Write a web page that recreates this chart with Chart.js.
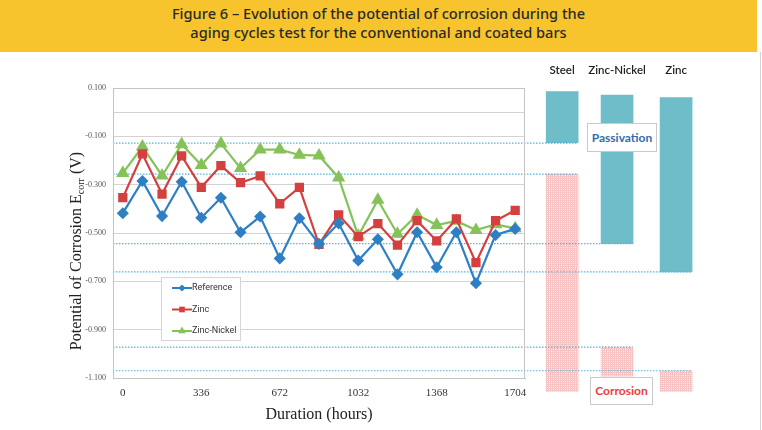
<!DOCTYPE html>
<html>
<head>
<meta charset="utf-8">
<script src="https://cdn.jsdelivr.net/npm/chart.js@4/dist/chart.umd.min.js"></script>
<style>
  body { margin: 0; background: #fff; }
  #wrap { position: relative; width: 762px; height: 430px; overflow: hidden; }
  #banner { position: absolute; left: 0; top: 0; width: 757px; height: 52px; background: #F8C42E;
            color: #2a2a2a; text-align: center; font-family: 'Noto Sans', sans-serif; font-size: 14.6px;
            font-weight: 500; line-height: 19px; padding-top: 4px; box-sizing: border-box; }
  canvas { position: absolute; left: 0; top: 0; }
  .tag { position: absolute; background: #fff; border: 1px solid #cacaca; font-family: Lato, sans-serif;
         font-weight: 700; font-size: 12px; text-align: center; box-sizing: border-box; z-index: 5; }
  #edge { position: absolute; left: 760px; top: 52px; width: 1px; height: 378px; background: #d4d4d4; }
</style>
</head>
<body>
<div id="wrap">
  <canvas id="bars" width="762" height="430"></canvas>
  <canvas id="lines" width="762" height="430"></canvas>
  <div id="banner">Figure 6 – Evolution of the potential of corrosion during the<br>aging cycles test for the conventional and coated bars</div>
  <div class="tag" style="left:587px;top:123px;width:70px;height:29px;line-height:27px;color:#2F6DB3;">Passivation</div>
  <div class="tag" style="left:590px;top:377px;width:63px;height:28px;line-height:26px;color:#F03C3C;">Corrosion</div>
  <div id="edge"></div>
</div>
<script>
// durations (hours) for each measurement, only every 4th is labelled
const hours = [0, 84, 168, 252, 336, 420, 504, 588, 672, 762, 852, 942, 1032, 1116, 1200, 1284, 1368, 1452, 1536, 1620, 1704];
const reference = [-0.418, -0.285, -0.430, -0.288, -0.437, -0.354, -0.497, -0.432, -0.605, -0.439, -0.545,
                   -0.460, -0.614, -0.526, -0.671, -0.497, -0.642, -0.497, -0.708, -0.508, -0.483];
const zinc = [-0.354, -0.173, -0.339, -0.181, -0.311, -0.221, -0.292, -0.264, -0.379, -0.311, -0.547,
              -0.425, -0.515, -0.461, -0.550, -0.449, -0.533, -0.442, -0.623, -0.449, -0.406];
const zincNickel = [-0.252, -0.143, -0.263, -0.133, -0.219, -0.130, -0.232, -0.155, -0.155, -0.177, -0.180,
                    -0.271, -0.512, -0.363, -0.504, -0.425, -0.467, -0.450, -0.488, -0.464, -0.481];

// right-hand panel: passivation / corrosion ranges per material
const materials = ['Steel', 'Zinc-Nickel', 'Zinc'];
const materialSlot = [22.41, 25.21, 28.22];
const passHigh = [0.085, 0.071, 0.060];
const passLow = [-0.126, -0.544, -0.661];
const corrHigh = [-0.256, -0.972, -1.070];
const corrLow = [-1.156, -1.092, -1.156];
// dotted reference levels and where they stop (in slot units)
const levels = [-0.128, -0.256, -0.544, -0.661, -0.972, -1.070];
const levelEnd = [23.2, 23.2, 26.0, 29.0, 26.0, 29.0];

const yMin = -1.1, yMax = 0.1;

const framePlugin = {
  id: 'frame',
  afterDraw(chart) {
    const { ctx, chartArea: a } = chart;
    ctx.save();
    ctx.strokeStyle = '#c4c4c4';
    ctx.lineWidth = 1;
    ctx.strokeRect(a.left + 0.5, a.top + 0.5, a.right - a.left - 1, a.bottom - a.top);
    ctx.restore();
  }
};

const yTitlePlugin = {
  id: 'yTitle',
  afterDraw(chart) {
    const ctx = chart.ctx;
    const big = '16px "Liberation Serif"', small = '10px "Liberation Serif"';
    const p1 = 'Potential of Corrosion E', p2 = 'corr', p3 = ' (V)';
    ctx.save();
    ctx.translate(77, 251);
    ctx.rotate(-Math.PI / 2);
    ctx.fillStyle = '#222';
    ctx.textBaseline = 'middle';
    ctx.textAlign = 'left';
    ctx.font = big;
    const w1 = ctx.measureText(p1).width, w3 = ctx.measureText(p3).width;
    ctx.font = small;
    const w2 = ctx.measureText(p2).width;
    let x = -(w1 + w2 + w3) / 2;
    ctx.font = big; ctx.fillText(p1, x, 0); x += w1;
    ctx.font = small; ctx.fillText(p2, x, 4); x += w2;
    ctx.font = big; ctx.fillText(p3, x, 0);
    ctx.restore();
  }
};

const legendPlugin = {
  id: 'boxLegend',
  afterDraw(chart) {
    const ctx = chart.ctx;
    const bx = 161, by = 277, bw = 79, bh = 63;
    ctx.save();
    ctx.fillStyle = '#fff';
    ctx.fillRect(bx, by, bw, bh);
    ctx.strokeStyle = '#d6d6d6';
    ctx.strokeRect(bx + 0.5, by + 0.5, bw, bh);
    chart.data.datasets.forEach((ds, i) => {
      const y = by + 11 + i * 21.5;
      ctx.strokeStyle = ds.borderColor;
      ctx.fillStyle = ds.backgroundColor;
      ctx.lineWidth = 2;
      ctx.beginPath();
      ctx.moveTo(bx + 11, y);
      ctx.lineTo(bx + 31, y);
      ctx.stroke();
      Chart.helpers.drawPoint(ctx, { pointStyle: ds.pointStyle, radius: ds.pointRadius * 0.8, borderWidth: 0, rotation: 0 }, bx + 21, y);
      ctx.fillStyle = '#333';
      ctx.font = '9px "Liberation Sans Narrow", Roboto, sans-serif';
      ctx.textBaseline = 'middle';
      ctx.fillText(ds.label, bx + 31, y);
    });
    ctx.restore();
  }
};

const lineChart = new Chart(document.getElementById('lines'), {
  type: 'line',
  data: {
    labels: hours,
    datasets: [
      { label: 'Reference', data: reference, borderColor: '#2E7FC4', backgroundColor: '#2E7FC4',
        pointStyle: 'rectRot', pointRadius: 4.5, borderWidth: 2.2 },
      { label: 'Zinc', data: zinc, borderColor: '#D4403F', backgroundColor: '#D4403F',
        pointStyle: 'rect', pointRadius: 5, borderWidth: 2.2 },
      { label: 'Zinc-Nickel', data: zincNickel, borderColor: '#86C25A', backgroundColor: '#86C25A',
        pointStyle: 'triangle', pointRadius: 5.5, borderWidth: 2.2 }
    ]
  },
  options: {
    responsive: false,
    animation: false,
    layout: { padding: { left: 0, top: 88, right: 237, bottom: 0 } },
    elements: { line: { tension: 0 }, point: { borderWidth: 0 } },
    scales: {
      x: {
        offset: true,
        grid: { display: false, drawTicks: false },
        border: { color: '#c4c4c4' },
        afterFit: s => { s.height = 52; },
        ticks: {
          autoSkip: false, maxRotation: 0, padding: 9, color: '#333',
          font: { family: 'Liberation Serif', size: 11 },
          callback: (v, i) => (i % 4 === 0 ? String(hours[i]) : '')
        },
        title: { display: true, text: 'Duration (hours)', color: '#222',
                 font: { family: 'Liberation Serif', size: 16 }, padding: { top: 0, bottom: 6 } }
      },
      y: {
        min: yMin, max: yMax,
        afterFit: s => { s.width = 113; },
        grid: {
          drawTicks: false,
          color: c => (c.index % 2 === 0 || c.index === 11) ? '#d3d3d3' : 'rgba(0,0,0,0)'
        },
        border: { color: '#c4c4c4' },
        ticks: {
          stepSize: 0.1, padding: 7, color: '#555',
          font: { family: 'Liberation Serif', size: 8 },
          callback: (v, i) => (i % 2 === 0 ? v.toFixed(3) : '')
        }
      }
    },
    plugins: { legend: { display: false }, tooltip: { enabled: false } }
  },
  plugins: [framePlugin, yTitlePlugin, legendPlugin]
});

// dotted pink fill for corrosion ranges
const tile = document.createElement('canvas');
tile.width = 2; tile.height = 2;
const tctx = tile.getContext('2d');
tctx.fillStyle = '#F8C2C2'; tctx.fillRect(0, 0, 2, 2);
tctx.fillStyle = '#FEF0F0'; tctx.fillRect(1, 1, 1, 1);
const pinkDots = tctx.createPattern(tile, 'repeat');

const labelPlugin = {
  id: 'materialLabels',
  afterDraw(chart) {
    const ctx = chart.ctx, xs = chart.scales.x;
    ctx.save();
    ctx.fillStyle = '#222';
    ctx.font = '600 11.5px Lato, sans-serif';
    ctx.textAlign = 'center';
    ctx.textBaseline = 'middle';
    materials.forEach((m, i) => ctx.fillText(m, xs.getPixelForValue(materialSlot[i]), 70));
    ctx.restore();
  }
};

const area = lineChart.chartArea;
new Chart(document.getElementById('bars'), {
  type: 'bar',
  data: {
    datasets: [
      ...levels.map((v, i) => ({
        type: 'line', data: [{ x: -0.5, y: v }, { x: levelEnd[i], y: v }],
        borderColor: '#56B4E3', borderWidth: 1.2, borderDash: [1.5, 1.5], pointRadius: 0
      })),
      { label: 'Passivation', data: materials.map((m, i) => ({ x: materialSlot[i], y: [passLow[i], passHigh[i]] })),
        backgroundColor: '#6EBDC9', barThickness: 32, grouped: false, clip: false },
      { label: 'Corrosion', data: materials.map((m, i) => ({ x: materialSlot[i], y: [corrLow[i], corrHigh[i]] })),
        backgroundColor: pinkDots, barThickness: 32, grouped: false, clip: false }
    ]
  },
  options: {
    responsive: false,
    animation: false,
    layout: { padding: { left: area.left, top: area.top, right: 2, bottom: 430 - area.bottom } },
    scales: {
      x: { type: 'linear', display: false, offset: false, min: -0.5, max: 32.5 },
      y: { display: false, min: yMin, max: yMax }
    },
    plugins: { legend: { display: false }, tooltip: { enabled: false } }
  },
  plugins: [labelPlugin]
});
</script>
</body>
</html>
